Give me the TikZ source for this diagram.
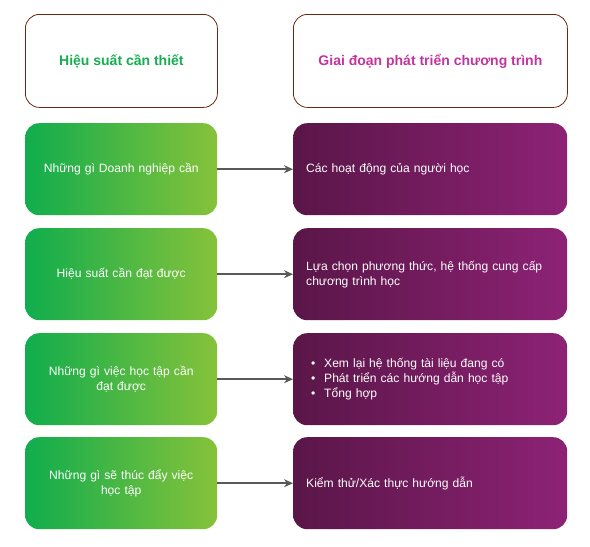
\documentclass[tikz,border=0pt]{standalone}
\usepackage{fontspec}
\setmainfont{Liberation Sans}
\usetikzlibrary{arrows.meta}
\definecolor{gL}{HTML}{10AD4D}
\definecolor{gR}{HTML}{86C23A}
\definecolor{pL}{HTML}{5A1648}
\definecolor{pR}{HTML}{8D2275}
\definecolor{hdrBorder}{HTML}{6B2A10}
\definecolor{hdrGreen}{HTML}{16AE50}
\definecolor{hdrMag}{HTML}{C2359C}
\definecolor{arrGray}{HTML}{595959}
\begin{document}
\begin{tikzpicture}[x=1pt,y=-1pt,
  hdr/.style={draw=hdrBorder, line width=0.8pt, rounded corners=14pt, minimum width=192pt, minimum height=93pt, anchor=north west, font=\bfseries\fontsize{14}{17}\selectfont},
  gbox/.style={rounded corners=14pt, left color=gL, right color=gR, minimum width=192pt, minimum height=92pt, anchor=north west, text=white, align=center, text width=176pt, font=\fontsize{12.1}{15}\selectfont},
  pbox/.style={rounded corners=14pt, left color=pL, right color=pR, minimum width=274pt, minimum height=92pt, anchor=north west, text=white, align=left, text width=248pt, inner xsep=13pt, font=\fontsize{12.1}{15}\selectfont},
  arr/.style={-{Stealth[length=9pt,width=8pt]}, draw=arrGray, line width=1.8pt}
]
\useasboundingbox (0,0) rectangle (590,547);
\node[hdr, text=hdrGreen] (h1) at (25,14) {Hiệu suất cần thiết};
\node[hdr, text=hdrMag, minimum width=274pt] (h2) at (293,14) {Giai đoạn phát triển chương trình};

\node[gbox] (g1) at (25,123) {Những gì Doanh nghiệp cần};
\node[gbox] (g2) at (25,228) {Hiệu suất cần đạt được};
\node[gbox] (g3) at (25,333) {Những gì việc học tập cần\\đạt được};
\node[gbox] (g4) at (25,437) {Những gì sẽ thúc đẩy việc\\học tập};

\node[pbox] (p1) at (293,123) {Các hoạt động của người học};
\node[pbox] (p2) at (293,228) {Lựa chọn phương thức, hệ thống cung cấp\\chương trình học};
\node[pbox] (p3) at (293,333) {\hspace*{5pt}\makebox[13pt][l]{•}Xem lại hệ thống tài liệu đang có\\\hspace*{5pt}\makebox[13pt][l]{•}Phát triển các hướng dẫn học tập\\\hspace*{5pt}\makebox[13pt][l]{•}Tổng hợp};
\node[pbox] (p4) at (293,437) {Kiểm thử/Xác thực hướng dẫn};

\foreach \i in {1,2,3,4} \draw[arr] (g\i.east) -- (p\i.west);
\end{tikzpicture}
\end{document}
